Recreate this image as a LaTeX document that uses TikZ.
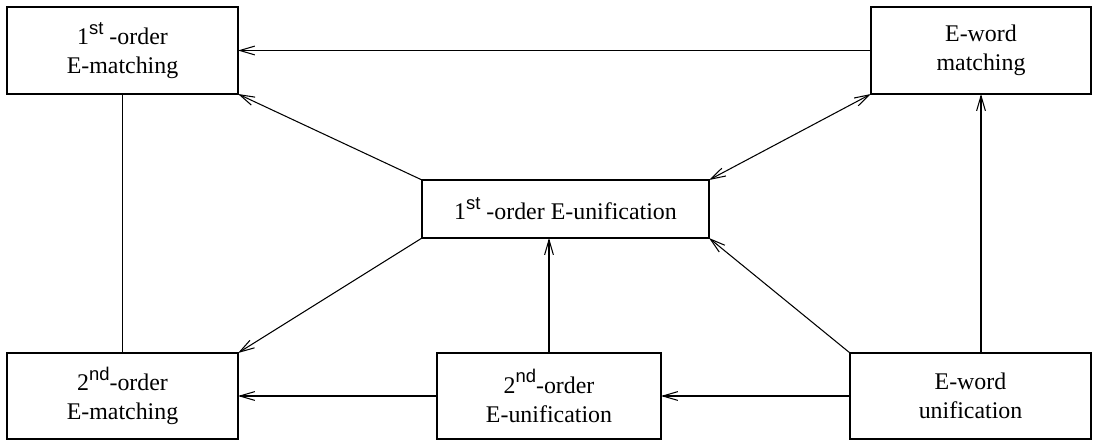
\documentclass[tikz,border=0pt]{standalone}
\usepackage{fontspec}
\setmainfont{Liberation Serif}
\newfontfamily\supf{Liberation Sans}
\usetikzlibrary{arrows.meta}
\newcommand{\sps}[1]{\raisebox{0.42em}{\fontsize{10.5}{10.5}\supf #1}}
\begin{document}
\begin{tikzpicture}[x=0.02cm,y=-0.02cm,
  box/.style={draw,line width=0.6pt,rectangle,inner sep=0pt,outer sep=0pt,align=center,
    font=\fontsize{13.6}{16.6}\selectfont},
  conn/.style={line width=0.6pt},
  arr/.style={conn,-{Straight Barb[length=8.5pt,width=5pt]}}]
\useasboundingbox (0,0) rectangle (1098,442);
\node[box,minimum width=231*0.02cm,minimum height=87*0.02cm] (tl) at (122.5,50.5) {1\sps{st} -order\\E-matching};
\node[box,minimum width=220*0.02cm,minimum height=87*0.02cm] (tr) at (981,50.5) {E-word\\matching};
\node[box,minimum width=287*0.02cm,minimum height=58*0.02cm] (c) at (565.5,209) {1\sps{st} -order E-unification};
\node[box,minimum width=231*0.02cm,minimum height=86*0.02cm] (bl) at (122.5,396) {2\sps{nd}-order\\E-matching};
\node[box,minimum width=224*0.02cm,minimum height=86*0.02cm] (bm) at (549,396) {2\sps{nd}-order\\E-unification};
\node[box,minimum width=241*0.02cm,minimum height=86*0.02cm] (br) at (970.5,396) {E-word\\unification};
\draw[arr] (tr) -- (tl);
\draw[arr] (c.north west) -- (tl.south east);
\draw[arr,{Straight Barb[length=8.5pt,width=5pt]}-{Straight Barb[length=8.5pt,width=5pt]}] (c.north east) -- (tr.south west);
\draw[conn] (tl.south) -- (bl.north);
\draw[arr] (c.south west) -- (bl.north east);
\draw[arr] (bm) -- (bl);
\draw[arr] (br) -- (bm);
\draw[arr] (bm.north) -- (bm.north |- c.south);
\draw[arr] (br.north west) -- (c.south east);
\draw[arr] (tr.south |- br.north) -- (tr.south);
\end{tikzpicture}
\end{document}
